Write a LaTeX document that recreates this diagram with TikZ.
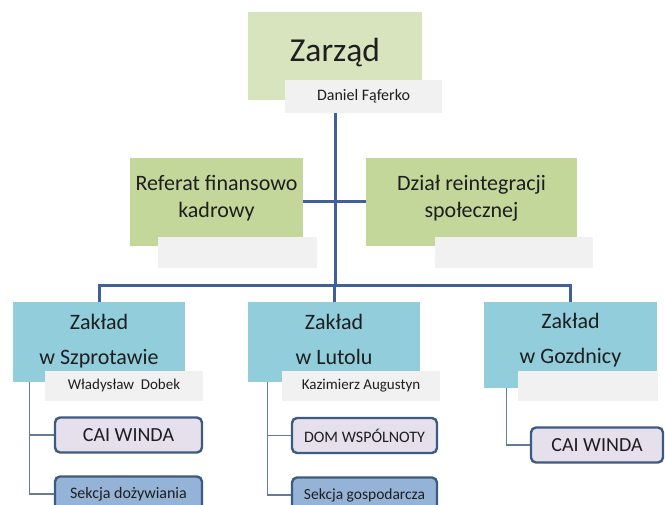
\documentclass[tikz,border=0pt]{standalone}
\usepackage{fontspec}
\setmainfont{Carlito}
\usetikzlibrary{calc}
\definecolor{boardgreen}{HTML}{D7E4BD}
\definecolor{deptgreen}{HTML}{C4D79B}
\definecolor{plantblue}{HTML}{92CDDC}
\definecolor{namegray}{HTML}{F1F1F1}
\definecolor{linkblue}{HTML}{41609A}
\definecolor{unitedge}{HTML}{3D5A80}
\definecolor{unitlilac}{HTML}{E5E0EC}
\definecolor{unitblue}{HTML}{95B3D7}
\definecolor{textdark}{HTML}{1E1E1E}

\begin{document}
\begin{tikzpicture}[x=1pt,y=-1pt,
    box/.style={inner sep=0pt,align=center,text=textdark},
    namebox/.style={box,fill=namegray,font=\fontsize{15}{17}\selectfont},
    dept/.style={box,fill=deptgreen,minimum height=88pt,font=\fontsize{22}{27}\selectfont},
    plant/.style={box,fill=plantblue,minimum width=172pt,text depth=6pt,font=\fontsize{22}{35}\selectfont},
    unit/.style={box,draw=unitedge,line width=2.4pt,rounded corners=5pt,minimum width=147pt,minimum height=35pt},
    trunk/.style={draw=linkblue,line width=3pt},
    twig/.style={draw=unitedge!80,line width=1.1pt}]
  \useasboundingbox (0,0) rectangle (665,505);
  \clip (0,0) rectangle (665,505);

  \node[box,fill=boardgreen,minimum width=174pt,minimum height=88pt,font=\fontsize{33.5}{36}\selectfont] (zarzad) at (335,56) {\raisebox{3pt}[\height][\depth]{Zarząd}};
  \node[namebox,minimum width=157pt,minimum height=33pt,font=\fontsize{16}{18}\selectfont] (zarzadlbl) at (363.5,96.5) {Daniel Fąferko};

  \node[dept,minimum width=173pt] (referat) at (216.5,202) {\raisebox{3pt}[\height][\depth]{\begin{tabular}{@{}c@{}}Referat finansowo\\kadrowy\end{tabular}}};
  \node[namebox,minimum width=159pt,minimum height=31pt] (referatlbl) at (237.5,252.5) {};
  \node[dept,minimum width=211pt] (dzial) at (471.5,202) {\raisebox{3pt}[\height][\depth]{\begin{tabular}{@{}c@{}}Dział reintegracji\\społecznej\end{tabular}}};
  \node[namebox,minimum width=158pt,minimum height=31pt] (dziallbl) at (514,252.5) {};

  \node[plant,minimum height=80pt] (szprot) at (99,342) {Zakład\\w Szprotawie};
  \node[namebox,minimum width=158pt,minimum height=30pt] (szprotlbl) at (124,386) {Władysław\ \ Dobek};
  \node[plant,minimum height=80pt] (lutol) at (334,342) {Zakład\\w Lutolu};
  \node[namebox,minimum width=158pt,minimum height=30pt] (lutollbl) at (361,386) {Kazimierz Augustyn};
  \node[plant,minimum width=173pt,minimum height=86pt,text depth=14pt] (gozd) at (570.5,345) {Zakład\\w Gozdnicy};
  \node[namebox,minimum width=140pt,minimum height=30pt] (gozdlbl) at (588,386) {};

  \coordinate (bar) at (335,286);
  \draw[trunk] (zarzad.south |- zarzadlbl.south) -- (bar);
  \draw[trunk] (szprot.north) |- (bar) -| (gozd.north);
  \draw[trunk] (lutol.north) -- (lutol.north |- bar);
  \draw[trunk] (referat.east) -- (dzial.west);

  \node[unit,fill=unitlilac,font=\fontsize{20}{22}\selectfont] (cai1) at (128.5,435) {CAI WINDA};
  \node[unit,fill=unitblue,font=\fontsize{16}{18}\selectfont] (sek1) at (128.5,494) {Sekcja dożywiania};
  \node[unit,fill=unitlilac,minimum width=145pt,font=\fontsize{16}{18}\selectfont] (dom) at (364.5,435.5) {DOM WSPÓLNOTY};
  \node[unit,fill=unitblue,minimum width=145pt,font=\fontsize{15.5}{18}\selectfont] (sek2) at (364.5,495) {Sekcja gospodarcza};
  \node[unit,fill=unitlilac,minimum width=132pt,font=\fontsize{20}{22}\selectfont] (cai3) at (597,445) {CAI WINDA};

  \draw[twig] ([xshift=17pt]szprot.south west) |- (cai1.west);
  \draw[twig] ([xshift=17pt]szprot.south west) |- (sek1.west);
  \draw[twig] ([xshift=20pt]lutol.south west) |- (dom.west);
  \draw[twig] ([xshift=20pt]lutol.south west) |- (sek2.west);
  \draw[twig] ([xshift=23pt]gozd.south west) |- (cai3.west);
\end{tikzpicture}
\end{document}
